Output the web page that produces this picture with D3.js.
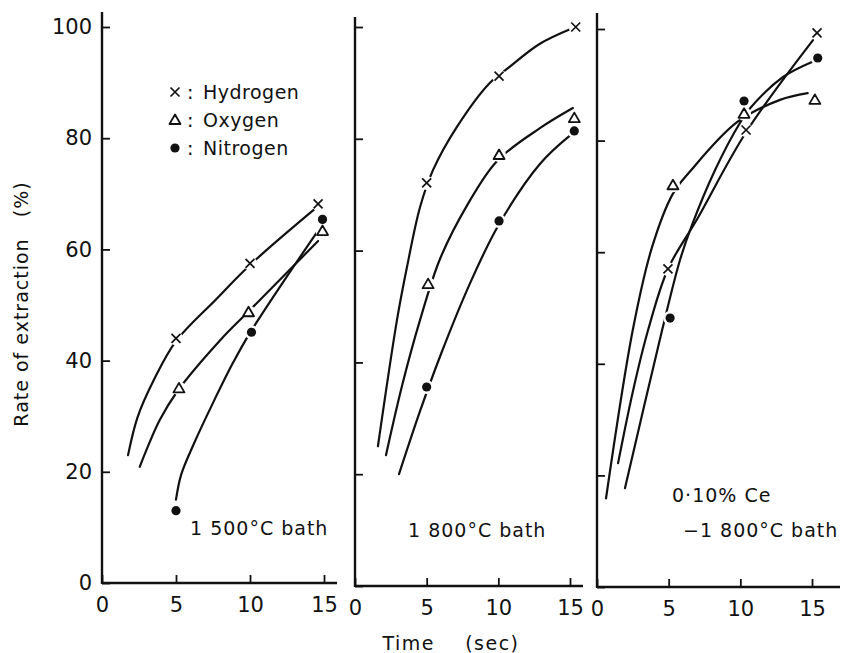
<!DOCTYPE html>
<html>
<head>
<meta charset="utf-8">
<script src="https://cdn.jsdelivr.net/npm/d3@7"></script>
<style>
  body { margin: 0; background: #fff; }
  text { font-family: "DejaVu Sans", sans-serif; fill: #111; }
</style>
</head>
<body>
<div id="chart"></div>
<script>
// tick values
const xTicks = [0, 5, 10, 15];
const yTicks = [0, 20, 40, 60, 80, 100];
const gases = ["Hydrogen", "Oxygen", "Nitrogen"];

const h1500 = [[5, 44], [10, 57.5], [14.6, 68.2]];
const o1500 = [[5.2, 35], [9.9, 48.7], [14.9, 63.3]];
const n1500 = [[5, 13], [10.1, 45.1], [14.9, 65.4]];

const h1800 = [[5, 72.1], [10.05, 91.2], [15.4, 100]];
const o1800 = [[5.1, 54], [10.05, 77.1], [15.3, 83.7]];
const n1800 = [[5, 35.6], [10.05, 65.3], [15.3, 81.4]];

const hCe = [[4.95, 57], [10.4, 81.9], [15.35, 99.3]];
const oCe = [[5.3, 72], [10.26, 84.8], [15.2, 87.3]];
const nCe = [[5.1, 48.2], [10.26, 87.1], [15.4, 94.8]];

// hand-drawn fitted curves
const h1500Fit = [[1.76, 23], [2.4, 29.8], [3.5, 36.5], [5, 43.5], [7.7, 51], [10, 57.2], [14.3, 67.1]];
const o1500Fit = [[2.55, 20.9], [3.0, 23.9], [3.9, 29.3], [5.07, 34.4], [8.0, 43.7], [10, 49.1], [14.6, 61.5]];
const n1500Fit = [[5.0, 15], [5.35, 19.5], [6.2, 25], [7.5, 32.4], [8.85, 39.6], [10, 45], [14.7, 63.8]];

const h1800Fit = [[1.6, 25], [2.93, 47.6], [3.63, 57.1], [4.54, 67.8], [5.44, 74.4], [7.1, 82.1], [9.4, 90], [10.6, 92.5], [12.9, 97], [15.0, 99.6]];
const o1800Fit = [[2.16, 23.4], [3.3, 36], [4.54, 47.6], [5.93, 58.5], [7.8, 68], [9.9, 76], [12.9, 81.9], [15.2, 85.5]];
const n1800Fit = [[3.07, 20], [4.5, 31], [6, 41.5], [8, 54], [10, 64.5], [12.9, 75.5], [15.2, 81]];

const hCeFit = [[1.47, 22.2], [2.5, 35], [3.56, 46], [4.95, 57], [7, 66], [10.4, 81.5], [15.07, 98]];
const oCeFit = [[0.63, 15.9], [2.5, 46.1], [3.84, 60.9], [5.3, 70.5], [6.5, 74.5], [9.77, 83.3], [12.77, 87.3], [14.7, 88.5]];
const nCeFit = [[1.95, 17.7], [4.54, 46], [5.79, 58.6], [6.63, 64.9], [8.23, 74.7], [9.98, 83.2], [10.68, 85.8], [12.98, 91.4], [15.0, 94.1]];

const width = 842, height = 653;

const panels = [
  { label: ["1 500°C bath"], labelPos: [[190, 535]], yLabels: true,
    pts: [h1500, o1500, n1500], fits: [h1500Fit, o1500Fit, n1500Fit],
    xr: [102, 324], xEnd: 337, yr: [583, 27], yTop: 12 },
  { label: ["1 800°C bath"], labelPos: [[408, 537]], yLabels: false,
    pts: [h1800, o1800, n1800], fits: [h1800Fit, o1800Fit, n1800Fit],
    xr: [355, 570], xEnd: 583, yr: [586, 27], yTop: 17 },
  { label: ["0·10% Ce", "−1 800°C bath"], labelPos: [[672, 502], [683, 537]], yLabels: false,
    pts: [hCe, oCe, nCe], fits: [hCeFit, oCeFit, nCeFit],
    xr: [597, 812], xEnd: 840, yr: [587, 29], yTop: 13 }
];

const svg = d3.select("#chart").append("svg")
    .attr("width", width)
    .attr("height", height);

function marker(sel, kind, cx, cy) {
  if (kind === 0) {
    sel.append("path")
      .attr("d", `M${cx - 4.5},${cy - 4.5}L${cx + 4.5},${cy + 4.5}M${cx - 4.5},${cy + 4.5}L${cx + 4.5},${cy - 4.5}`)
      .attr("stroke", "#111").attr("stroke-width", 1.7).attr("fill", "none");
  } else if (kind === 1) {
    sel.append("path")
      .attr("d", `M${cx},${cy - 5.5}L${cx + 5.5},${cy + 4}L${cx - 5.5},${cy + 4}Z`)
      .attr("stroke", "#111").attr("stroke-width", 1.8).attr("fill", "#fff")
      .attr("stroke-linejoin", "round");
  } else {
    sel.append("circle").attr("cx", cx).attr("cy", cy).attr("r", 4.6).attr("fill", "#111");
  }
}

panels.forEach(function(p) {
  let x = d3.scaleLinear().domain([0, 15]).range(p.xr);
  let y = d3.scaleLinear().domain([0, 100]).range(p.yr);
  let g = svg.append("g");

  // axis lines
  g.append("line")
    .attr("x1", x(0)).attr("x2", p.xEnd).attr("y1", y(0)).attr("y2", y(0))
    .attr("stroke", "#111").attr("stroke-width", 2.4);
  g.append("line")
    .attr("x1", x(0)).attr("x2", x(0)).attr("y1", y(0) + 1).attr("y2", p.yTop)
    .attr("stroke", "#111").attr("stroke-width", 2.4);

  // y ticks (inward)
  let ya = g.append("g")
    .attr("transform", "translate(" + x(0) + ",0)")
    .call(d3.axisLeft(y).tickValues(yTicks).tickSizeInner(-8).tickSizeOuter(0)
      .tickPadding(10).tickFormat(p.yLabels ? d3.format("d") : ""));
  ya.select(".domain").remove();

  // x ticks (inward)
  let xa = g.append("g")
    .attr("transform", "translate(0," + y(0) + ")")
    .call(d3.axisBottom(x).tickValues(xTicks).tickSizeInner(-8).tickSizeOuter(0)
      .tickPadding(14).tickFormat(d3.format("d")));
  xa.select(".domain").remove();

  g.selectAll(".tick line").attr("stroke", "#111").attr("stroke-width", 1.8);
  g.selectAll(".tick text")
    .style("font-family", "'DejaVu Sans', sans-serif")
    .style("font-size", "21px")
    .attr("fill", "#111");

  // fitted curves
  let line = d3.line()
    .x(d => x(d[0]))
    .y(d => y(d[1]))
    .curve(d3.curveCatmullRom.alpha(0.5));

  p.fits.forEach(function(f) {
    g.append("path")
      .attr("d", line(f))
      .attr("fill", "none")
      .attr("stroke", "#111")
      .attr("stroke-width", 2.2)
      .attr("stroke-linecap", "round");
  });

  // white gaps around the markers, then the markers
  p.pts.forEach(function(s) {
    s.forEach(function(d) {
      g.append("circle").attr("cx", x(d[0])).attr("cy", y(d[1])).attr("r", 7).attr("fill", "#fff");
    });
  });
  p.pts.forEach(function(s, k) {
    s.forEach(function(d) {
      marker(g, k, x(d[0]), y(d[1]));
    });
  });

  // panel label
  p.label.forEach(function(t, i) {
    g.append("text")
      .attr("x", p.labelPos[i][0])
      .attr("y", p.labelPos[i][1])
      .style("font-size", "19px")
      .style("letter-spacing", "1px")
      .text(t);
  });
});

// legend in the first panel
gases.forEach(function(name, i) {
  let cy = 92 + i * 28;
  marker(svg, i, 175, cy);
  svg.append("text").attr("x", 187).attr("y", cy + 7).style("font-size", "19px").text(":");
  svg.append("text").attr("x", 203).attr("y", cy + 7).style("font-size", "19px")
    .style("letter-spacing", "0.5px").text(name);
});

// axis titles
svg.append("text")
  .attr("transform", "translate(28,304) rotate(-90)")
  .attr("text-anchor", "middle")
  .attr("xml:space", "preserve")
  .style("white-space", "pre")
  .style("font-size", "19px")
  .style("letter-spacing", "1px")
  .text("Rate of extraction   (%)");

svg.append("text")
  .attr("x", 451)
  .attr("y", 650)
  .attr("text-anchor", "middle")
  .attr("xml:space", "preserve")
  .style("white-space", "pre")
  .style("font-size", "19px")
  .style("letter-spacing", "1.5px")
  .text("Time    (sec)");
</script>
</body>
</html>
